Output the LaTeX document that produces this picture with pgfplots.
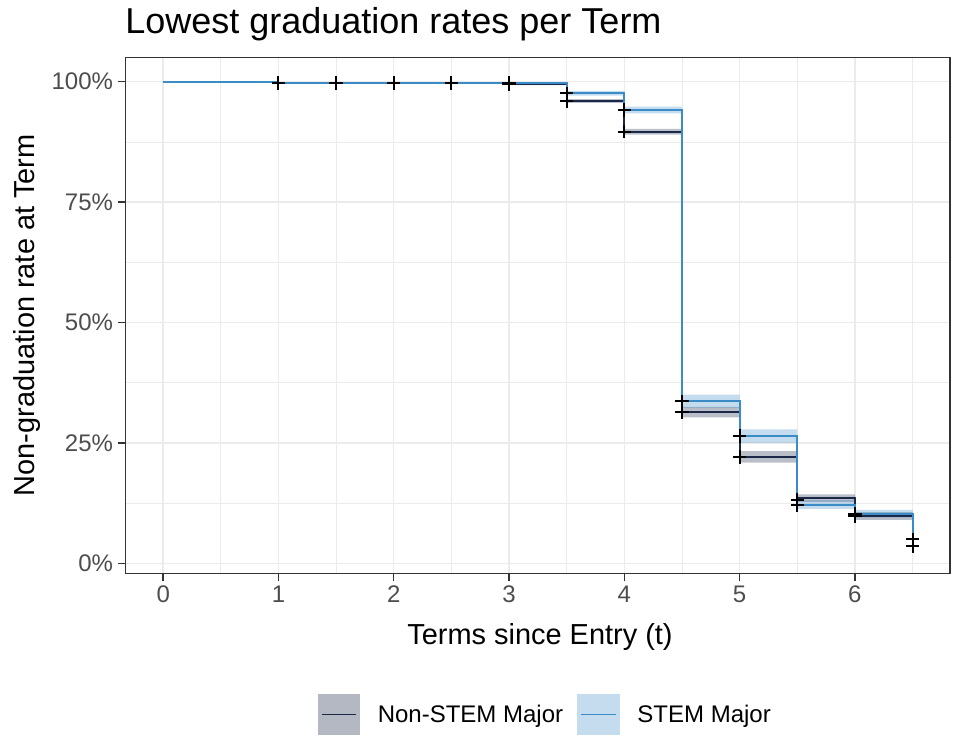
\documentclass[border=0pt]{standalone}
\usepackage{fontspec}
\setmainfont{Liberation Sans}
\usepackage{pgfplots}
\pgfplotsset{compat=1.18}
\definecolor{nonstem}{RGB}{28,40,72}
\definecolor{stem}{RGB}{58,140,198}
\definecolor{gridc}{RGB}{235,235,235}
\definecolor{axc}{RGB}{51,51,51}
\definecolor{tickc}{RGB}{77,77,77}
\begin{document}
\begin{tikzpicture}
\useasboundingbox (0,0) rectangle (715.5pt,552.75pt);
\begin{axis}[
  at={(94.28pt,122.78pt)}, anchor=south west,
  scale only axis, width=618.2pt, height=387pt,
  xmin=-0.325, xmax=6.825, ymin=-2.08, ymax=105.07,
  xtick={0,1,2,3,4,5,6}, xticklabels={0,1,2,3,4,5,6},
  ytick={0,25,50,75,100}, yticklabels={0\%,25\%,50\%,75\%,100\%},
  minor xtick={0.5,1.5,2.5,3.5,4.5,5.5,6.5},
  minor ytick={12.5,37.5,62.5,87.5},
  grid=both,
  major grid style={gridc, line width=1.1pt},
  minor grid style={gridc, line width=0.55pt},
  axis line style={axc, line width=1.1pt},
  tick align=outside, major tick length=6pt, minor tick length=0pt,
  xtick pos=bottom, ytick pos=left,
  tick style={axc, line width=1.1pt},
  /pgf/number format/assume math mode=true,
  ticklabel style={font=\fontsize{18}{20}\selectfont, text=tickc},
  legend cell align=left,
  legend style={at={(0.5093,-0.2736)}, anchor=center, draw=none, fill=none,
    legend columns=2, font=\fontsize{18}{20}\selectfont,
    /tikz/every odd column/.append style={column sep=11pt},
    /tikz/every even column/.append style={column sep=8.5pt}},
]
% confidence bands (lower/upper rectangles per interval)
\addplot[forget plot, draw=none, fill=nonstem, fill opacity=0.3, unbounded coords=jump] coordinates {
 (3,99.7) (3.5,99.7) (3.5,99.3) (3,99.3) (3,nan)
 (3.5,96.4) (4,96.4) (4,95.6) (3.5,95.6) (3.5,nan)
 (4,90.2) (4.5,90.2) (4.5,89.0) (4,89.0) (4,nan)
 (4.5,32.5) (5,32.5) (5,30.3) (4.5,30.3) (4.5,nan)
 (5,23.3) (5.5,23.3) (5.5,20.9) (5,20.9) (5,nan)
 (5.5,14.3) (6,14.3) (6,12.7) (5.5,12.7) (5.5,nan)
 (6,10.6) (6.5,10.6) (6.5,9.0) (6,9.0)
};
\addplot[forget plot, draw=none, fill=stem, fill opacity=0.3, unbounded coords=jump] coordinates {
 (3.5,98.1) (4,98.1) (4,97.1) (3.5,97.1) (3.5,nan)
 (4,94.8) (4.5,94.8) (4.5,93.4) (4,93.4) (4,nan)
 (4.5,35.0) (5,35.0) (5,32.2) (4.5,32.2) (4.5,nan)
 (5,27.8) (5.5,27.8) (5.5,25.0) (5,25.0) (5,nan)
 (5.5,13.1) (6,13.1) (6,11.3) (5.5,11.3) (5.5,nan)
 (6,11.1) (6.5,11.1) (6.5,9.5) (6,9.5)
};
% survival step curves
\addplot[forget plot, const plot, nonstem, line width=1.5pt] coordinates {
 (0,100) (1,99.7) (3,99.5) (3.5,96.0) (4,89.6) (4.5,31.4) (5,22.1) (5.5,13.5) (6,9.8) (6.5,5.0)
};
\addplot[forget plot, const plot, stem, line width=1.5pt] coordinates {
 (0,100) (1,99.8) (3,99.7) (3.5,97.6) (4,94.1) (4.5,33.6) (5,26.4) (5.5,12.2) (6,10.3) (6.5,3.5)
};
% censor marks
\addplot[forget plot, only marks, mark=+, mark size=5pt, black, line width=1.5pt] coordinates {
 (1,99.7) (1.5,99.7) (2,99.7) (2.5,99.7) (3,99.5) (3.5,96.0) (4,89.6) (4.5,31.4) (5,22.1) (5.5,13.2) (6,9.8) (6.5,5.0)
};
\addplot[forget plot, only marks, mark=+, mark size=5pt, black, line width=1.5pt] coordinates {
 (1,99.8) (1.5,99.8) (2,99.8) (2.5,99.8) (3,99.7) (3.5,97.6) (4,94.1) (4.5,33.6) (5,26.4) (5.5,12.0) (6,10.3) (6.5,3.5)
};
\addlegendimage{legend image code/.code={
  \fill[draw=none, fill=nonstem, fill opacity=0.33] (0pt,-15.4pt) rectangle (32.2pt,15.4pt);
  \draw[nonstem, line width=1.1pt] (3pt,0pt) -- (29.2pt,0pt);}}
\addlegendentry{Non-STEM Major}
\addlegendimage{legend image code/.code={
  \fill[draw=none, fill=stem, fill opacity=0.3] (0pt,-15.4pt) rectangle (32.2pt,15.4pt);
  \draw[stem, line width=1.1pt] (3pt,0pt) -- (29.2pt,0pt);}}
\addlegendentry{STEM Major}
\end{axis}
\node[anchor=base west, inner sep=0pt, font=\fontsize{27}{32}\selectfont] at (93.75pt,527.25pt) {Lowest graduation rates per Term};
\node[anchor=base, inner sep=0pt, font=\fontsize{21.7}{26}\selectfont] at (405pt,69pt) {Terms since Entry (t)};
\node[anchor=base, inner sep=0pt, rotate=90, font=\fontsize{21.7}{26}\selectfont] at (26.25pt,316.3pt) {Non-graduation rate at Term};
\end{tikzpicture}
\end{document}
